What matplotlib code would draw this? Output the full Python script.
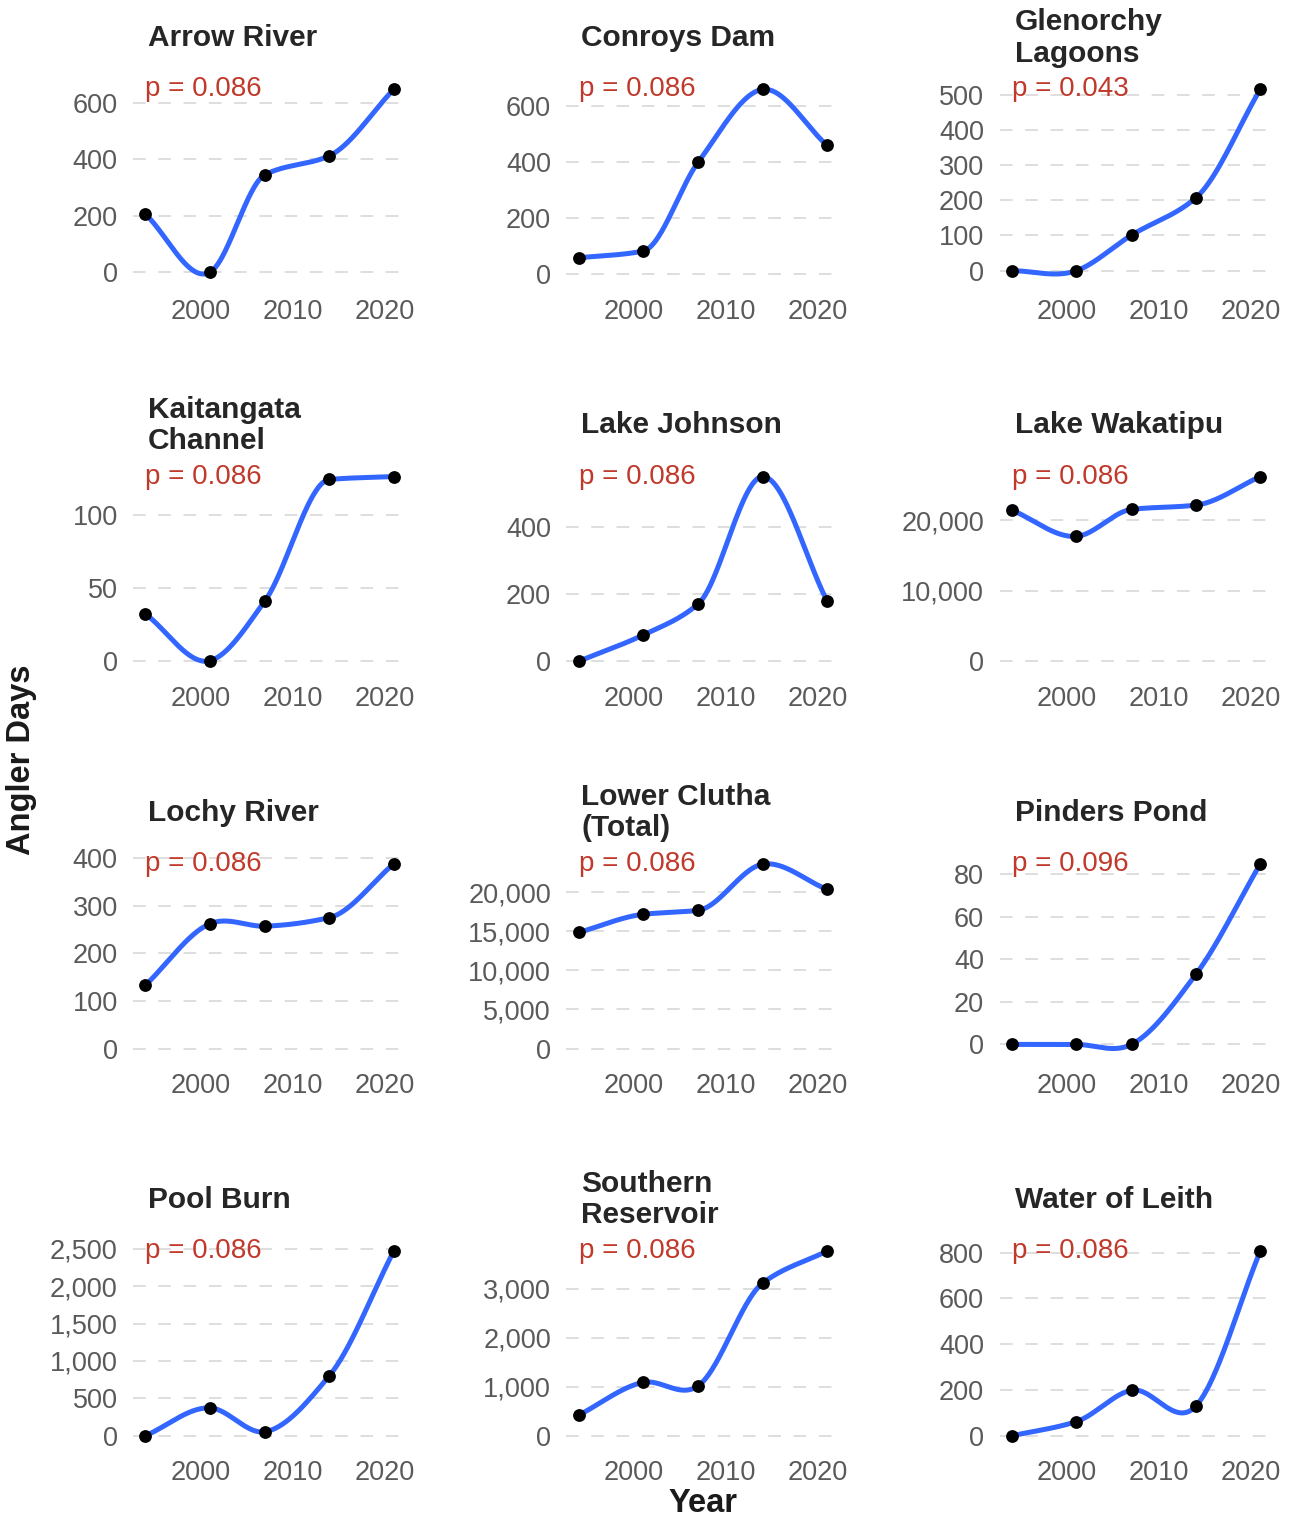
#!/usr/bin/env python3
"""
Angler days per water body, 1994-2021 survey years.

Small multiples (4 x 3) with a smoothed trend line through each survey,
and the trend test p-value printed in the top-left of every panel.
"""

import numpy as np
import matplotlib
matplotlib.use('Agg')
import matplotlib.pyplot as plt
from matplotlib.ticker import MultipleLocator, StrMethodFormatter

# Set font preferences
plt.rcParams['font.family'] = ['Liberation Sans', 'DejaVu Sans']

# Survey years (x axis)
years = [1994, 2001, 2007, 2014, 2021]

# Panel titles, in reading order
sites = [
    'Arrow River', 'Conroys Dam', 'Glenorchy\nLagoons',
    'Kaitangata\nChannel', 'Lake Johnson', 'Lake Wakatipu',
    'Lochy River', 'Lower Clutha\n(Total)', 'Pinders Pond',
    'Pool Burn', 'Southern\nReservoir', 'Water of Leith',
]

# Angler days per survey year, one list per site
arrow_river = [205, 0, 345, 412, 647]
conroys_dam = [58, 82, 401, 661, 461]
glenorchy_lagoons = [0, 0, 101, 207, 515]
kaitangata_channel = [32, 0, 41, 124, 126]
lake_johnson = [0, 78, 171, 550, 180]
lake_wakatipu = [21430, 17710, 21530, 22140, 26190]
lochy_river = [133, 262, 257, 275, 388]
lower_clutha = [14840, 17160, 17680, 23570, 20350]
pinders_pond = [0, 0, 0, 33, 85]
pool_burn = [0, 373, 54, 803, 2468]
southern_reservoir = [421, 1090, 1021, 3117, 3772]
water_of_leith = [0, 62, 199, 130, 807]

angler_days = [
    arrow_river, conroys_dam, glenorchy_lagoons,
    kaitangata_channel, lake_johnson, lake_wakatipu,
    lochy_river, lower_clutha, pinders_pond,
    pool_burn, southern_reservoir, water_of_leith,
]

# Trend test p-values
p_values = [0.086, 0.086, 0.043, 0.086, 0.086, 0.086,
            0.086, 0.086, 0.096, 0.086, 0.086, 0.086]

# Y tick spacing per panel
y_steps = [200, 200, 100, 50, 200, 10000, 100, 5000, 20, 500, 1000, 200]

LINE_BLUE = '#3366FF'
P_RED = '#C0392B'
TICK_GREY = '#5A5A5A'
GRID_GREY = '#DEDEDE'


def smooth_curve(x, y, n=300):
    """
    Cubic Hermite curve through every point.
    Tangents: harmonic mean where the neighbouring slopes agree in sign
    (keeps plateaus flat), central difference otherwise (soft overshoot).
    """
    x = np.asarray(x, dtype=float)
    y = np.asarray(y, dtype=float)
    h = np.diff(x)
    d = np.diff(y) / h
    m = np.gradient(y, x)
    for i in range(1, len(x) - 1):
        if d[i - 1] * d[i] > 0:
            w1 = 2 * h[i] + h[i - 1]
            w2 = h[i] + 2 * h[i - 1]
            m[i] = (w1 + w2) / (w1 / d[i - 1] + w2 / d[i])

    xs, ys = [], []
    for i in range(len(x) - 1):
        t = np.linspace(0, 1, n // (len(x) - 1), endpoint=(i == len(x) - 2))
        h00 = 2 * t**3 - 3 * t**2 + 1
        h10 = t**3 - 2 * t**2 + t
        h01 = -2 * t**3 + 3 * t**2
        h11 = t**3 - t**2
        xs.append(x[i] + t * h[i])
        ys.append(h00 * y[i] + h10 * h[i] * m[i] + h01 * y[i + 1] + h11 * h[i] * m[i + 1])
    return np.concatenate(xs), np.concatenate(ys)


def plot_site(ax, title, values, p, step):
    """
    One panel: smoothed line, survey points, p-value and dashed y grid.
    """
    cx, cy = smooth_curve(years, values)

    ax.plot(cx, cy, color=LINE_BLUE, linewidth=3.6, solid_capstyle='round', zorder=3)
    ax.scatter(years, values, s=85, color='black', zorder=4, linewidths=0)

    # Axis limits, ggplot-like 5% expansion, always including zero
    lo = min(0, cy.min())
    hi = max(cy.max(), max(values))
    pad = 0.05 * (hi - lo)
    ax.set_ylim(lo - pad, hi + pad)
    xpad = 0.05 * (years[-1] - years[0])
    ax.set_xlim(years[0] - xpad, years[-1] + xpad)

    # p-value at the top-left data corner
    ax.text(years[0], max(values), f'p = {p:.3f}', color=P_RED,
            fontsize=20, ha='left', va='center', zorder=5)

    # Title floats above the panel
    ax.text(0.055, 1 + 42 / 203, title, transform=ax.transAxes,
            fontsize=21.5, fontweight='bold', color='#262626',
            ha='left', va='center', linespacing=1.15)

    ax.set_xticks([2000, 2010, 2020])
    ax.yaxis.set_major_locator(MultipleLocator(step))
    ax.yaxis.set_major_formatter(StrMethodFormatter('{x:,.0f}'))

    ax.grid(True, axis='y', color=GRID_GREY, linewidth=1.4,
            linestyle=(0, (6.5, 6.5)))
    ax.grid(False, axis='x')
    ax.set_axisbelow(True)
    for spine in ax.spines.values():
        spine.set_visible(False)
    ax.tick_params(length=0, pad=11, labelsize=19.5, labelcolor=TICK_GREY)


def main():
    fig, axes = plt.subplots(4, 3, figsize=(13, 15.19), dpi=100)
    fig.subplots_adjust(left=0.1023, right=0.979, top=0.9473, bottom=0.0487,
                        wspace=0.586, hspace=0.906)

    for ax, title, values, p, step in zip(axes.flat, sites, angler_days, p_values, y_steps):
        plot_site(ax, title, values, p, step)

    # Shared axis titles
    fig.text(22 / 1300, 1 - 760 / 1519, 'Angler Days', rotation=90,
             fontsize=23.5, fontweight='bold', color='#1A1A1A',
             ha='center', va='center')
    fig.text(703 / 1300, 1 - 1503 / 1519, 'Year',
             fontsize=23.5, fontweight='bold', color='#1A1A1A',
             ha='center', va='center')

    plt.savefig('out.png', dpi=100, facecolor='white')


if __name__ == "__main__":
    main()
